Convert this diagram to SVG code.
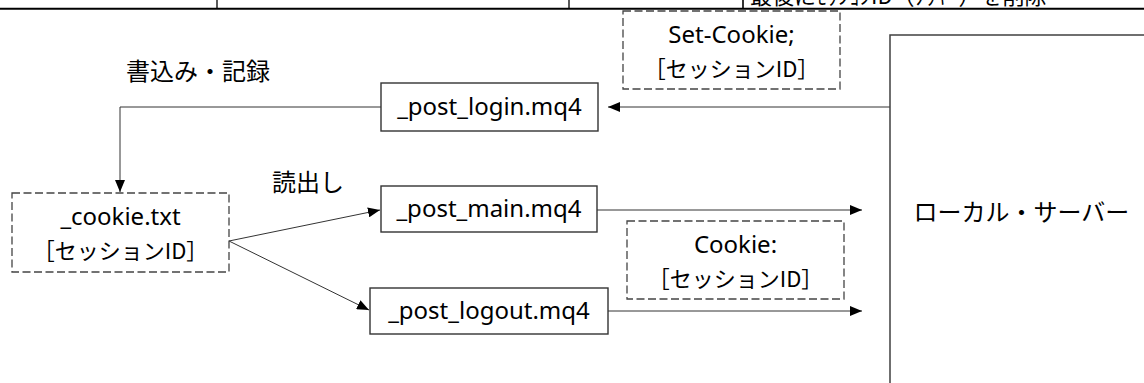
<svg xmlns="http://www.w3.org/2000/svg" width="1144" height="383" viewBox="0 0 1144 383">
  <style>
    .lat { font-family: "Noto Sans", "Noto Sans CJK JP", sans-serif; font-size: 24px; fill: #000; }
    .jp { font-family: "Noto Sans CJK JP", "Noto Sans", sans-serif; fill: #000; }
    .sid { font-size: 22px; }
    .box { fill: #fff; stroke: #333; stroke-width: 1.4; }
    .dash { fill: #fff; stroke: #444; stroke-width: 1.3; stroke-dasharray: 8 3.5; }
    .wire { fill: none; stroke: #333; stroke-width: 1; }
    .rule { stroke: #000; }
  </style>
  <defs>
    <marker id="head" markerUnits="userSpaceOnUse" markerWidth="13" markerHeight="10" viewBox="0 0 13 10" refX="12" refY="5" orient="auto">
      <path d="M0,0 L12,5 L0,10 Z" fill="#000"/>
    </marker>
  </defs>

  <rect width="1144" height="383" fill="#fff"/>

  <!-- table row above the figure -->
  <g id="table-row">
    <text class="jp" x="750" y="4" font-size="22">最後にｾｯｼｮﾝID（ｸｯｷｰ）を削除</text>
    <line class="rule" x1="217" y1="0" x2="217" y2="8" stroke-width="1.3"/>
    <line class="rule" x1="569" y1="0" x2="569" y2="8" stroke-width="1.3"/>
    <line class="rule" x1="743" y1="0" x2="743" y2="8" stroke-width="1.6"/>
    <line class="rule" x1="0" y1="8.7" x2="1144" y2="8.7" stroke-width="2"/>
  </g>

  <!-- connectors -->
  <g id="connectors">
    <line class="wire" x1="890" y1="107" x2="608" y2="107" marker-end="url(#head)"/>
    <polyline class="wire" points="381,107 120,107 120,192" marker-end="url(#head)"/>
    <line class="wire" x1="229" y1="241" x2="380" y2="210" marker-end="url(#head)"/>
    <line class="wire" x1="229" y1="241" x2="369" y2="310" marker-end="url(#head)"/>
    <line class="wire" x1="597" y1="210" x2="862" y2="210" marker-end="url(#head)"/>
    <line class="wire" x1="608" y1="311" x2="862" y2="311" marker-end="url(#head)"/>
  </g>

  <!-- free labels -->
  <text class="jp" x="126" y="80" font-size="24">書込み・記録</text>
  <text class="jp" x="272" y="191" font-size="24">読出し</text>

  <g id="server">
    <rect x="890" y="35" width="300" height="400" fill="#fff" stroke="#404040" stroke-width="1.5"/>
    <text class="jp" x="1021.5" y="221" font-size="24" text-anchor="middle">ローカル・サーバー</text>
  </g>

  <g id="set-cookie">
    <rect class="dash" x="623" y="11" width="217" height="78"/>
    <text class="lat" x="731.5" y="43" text-anchor="middle">Set-Cookie;</text>
    <text class="jp sid" x="731.5" y="77" text-anchor="middle">［セッションID］</text>
  </g>

  <g id="post-login">
    <rect class="box" x="381" y="83" width="217" height="48"/>
    <text class="lat" x="489.5" y="115" text-anchor="middle">_post_login.mq4</text>
  </g>

  <g id="cookie-file">
    <rect class="dash" x="12" y="193" width="217" height="79"/>
    <text class="lat" x="120.5" y="225" text-anchor="middle">_cookie.txt</text>
    <text class="jp sid" x="120.5" y="259" text-anchor="middle">［セッションID］</text>
  </g>

  <g id="post-main">
    <rect class="box" x="381" y="186" width="216" height="46"/>
    <text class="lat" x="489" y="217" text-anchor="middle">_post_main.mq4</text>
  </g>

  <g id="cookie-header">
    <rect class="dash" x="627" y="221" width="217" height="78"/>
    <text class="lat" x="735.5" y="253" text-anchor="middle">Cookie:</text>
    <text class="jp sid" x="735.5" y="287" text-anchor="middle">［セッションID］</text>
  </g>

  <g id="post-logout">
    <rect class="box" x="370" y="288" width="238" height="46"/>
    <text class="lat" x="489" y="319" text-anchor="middle">_post_logout.mq4</text>
  </g>
</svg>
